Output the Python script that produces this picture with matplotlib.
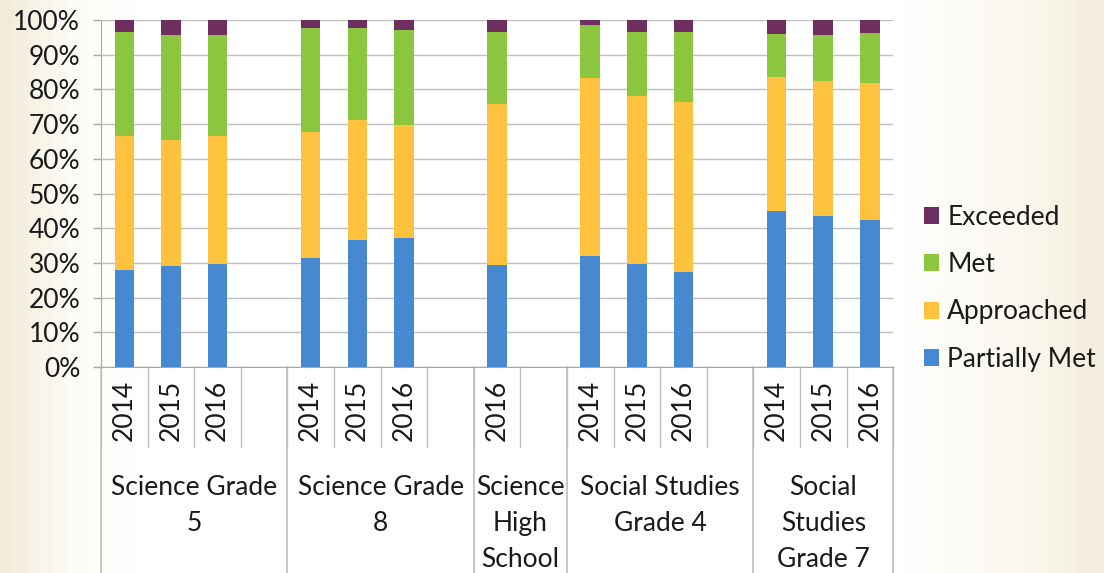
import numpy as np
import matplotlib.pyplot as plt
from matplotlib.colors import LinearSegmentedColormap

plt.rcParams['font.family'] = ['Lato', 'DejaVu Sans']

# slot layout of the category axis (None = empty slot)
slot_years = ['2014', '2015', '2016', None,
              '2014', '2015', '2016', None,
              '2016', None,
              '2014', '2015', '2016', None,
              '2014', '2015', '2016']
groups = ['Science Grade\n5', 'Science Grade\n8', 'Science\nHigh\nSchool',
          'Social Studies\nGrade 4', 'Social\nStudies\nGrade 7']
group_edges = [-0.5, 3.5, 7.5, 9.5, 13.5, 16.5]

# values (percent) for the bars that exist, in slot order
partially_met = [28.1, 29.0, 29.6, 31.4, 36.5, 37.2, 29.3, 32.1, 29.8, 27.3, 45.0, 43.6, 42.5]
approached    = [38.4, 36.4, 36.9, 36.3, 34.7, 32.5, 46.5, 51.1, 48.4, 49.0, 38.5, 38.9, 39.5]
met           = [30.2, 30.4, 29.1, 30.1, 26.4, 27.4, 20.9, 15.3, 18.4, 20.3, 12.6, 13.1, 14.3]
exceeded      = [3.3, 4.2, 4.4, 2.2, 2.4, 2.9, 3.3, 1.5, 3.4, 3.4, 3.9, 4.4, 3.7]

series = ['Partially Met', 'Approached', 'Met', 'Exceeded']
colors = ['#4689D0', '#FFC23F', '#8CC63E', '#6E2F5E']
fs = 19

x = np.array([i for i, y in enumerate(slot_years) if y is not None])

fig = plt.figure(figsize=(11.04, 5.73), dpi=100)

# cream background gradient
bg = fig.add_axes([0, 0, 1, 1], zorder=-10)
cmap = LinearSegmentedColormap.from_list('bg', [(0, '#F1ECD8'), (0.06, '#FCFBF6'), (0.12, '#FFFFFF'),
                                               (0.82, '#FFFFFF'), (0.93, '#FAF7EE'), (1, '#F3EEDD')])
bg.imshow(np.linspace(0, 1, 400).reshape(1, -1), aspect='auto', cmap=cmap, extent=[0, 1, 0, 1])
bg.axis('off')

ax = fig.add_axes([0.0915, 0.3595, 0.7175, 0.6055])
ax.set_facecolor('none')

bottom = np.zeros(len(x))
for name, vals, c in zip(series, [partially_met, approached, met, exceeded], colors):
    ax.bar(x, vals, width=0.42, bottom=bottom, color=c, label=name, zorder=3)
    bottom += np.array(vals)

ax.set_xlim(-0.5, 16.5)
ax.set_ylim(0, 100)
ax.set_yticks(np.arange(0, 101, 10))
ax.set_yticklabels([f'{v}%' for v in range(0, 101, 10)], fontsize=fs, color='#1A1A1A')
ax.yaxis.grid(True, color='#BFBFBF', linewidth=1, zorder=0)
ax.tick_params(axis='y', color='#A6A6A6', length=6, width=1, pad=9)
ax.set_xticks([])
for s in ['top', 'right']:
    ax.spines[s].set_visible(False)
for s in ['left', 'bottom']:
    ax.spines[s].set_color('#A6A6A6')

# multi-level category axis
tr = ax.get_xaxis_transform()
for e in np.arange(-0.5, 16.6, 1):
    ax.plot([e, e], [0, -0.23], transform=tr, color='#BFBFBF', lw=1, clip_on=False)
for e in group_edges:
    ax.plot([e, e], [0, -0.6], transform=tr, color='#BFBFBF', lw=1.2, clip_on=False)
for i, y in enumerate(slot_years):
    if y:
        ax.text(i, -0.125, y, transform=tr, rotation=90, ha='center', va='center',
                fontsize=fs, color='#1A1A1A')
for g, a, b in zip(groups, group_edges[:-1], group_edges[1:]):
    ax.text((a + b) / 2, -0.31, g, transform=tr, ha='center', va='top', fontsize=fs,
            linespacing=1.55, color='#1A1A1A')

h, l = ax.get_legend_handles_labels()
leg = fig.legend(h[::-1], l[::-1], loc='center left', bbox_to_anchor=(0.815, 0.497), frameon=False,
                 fontsize=fs, handlelength=0.6, handleheight=0.6, handletextpad=0.3, labelspacing=0.85)
for t in leg.get_texts():
    t.set_color('#1A1A1A')

fig.savefig('out.png', dpi=100)
